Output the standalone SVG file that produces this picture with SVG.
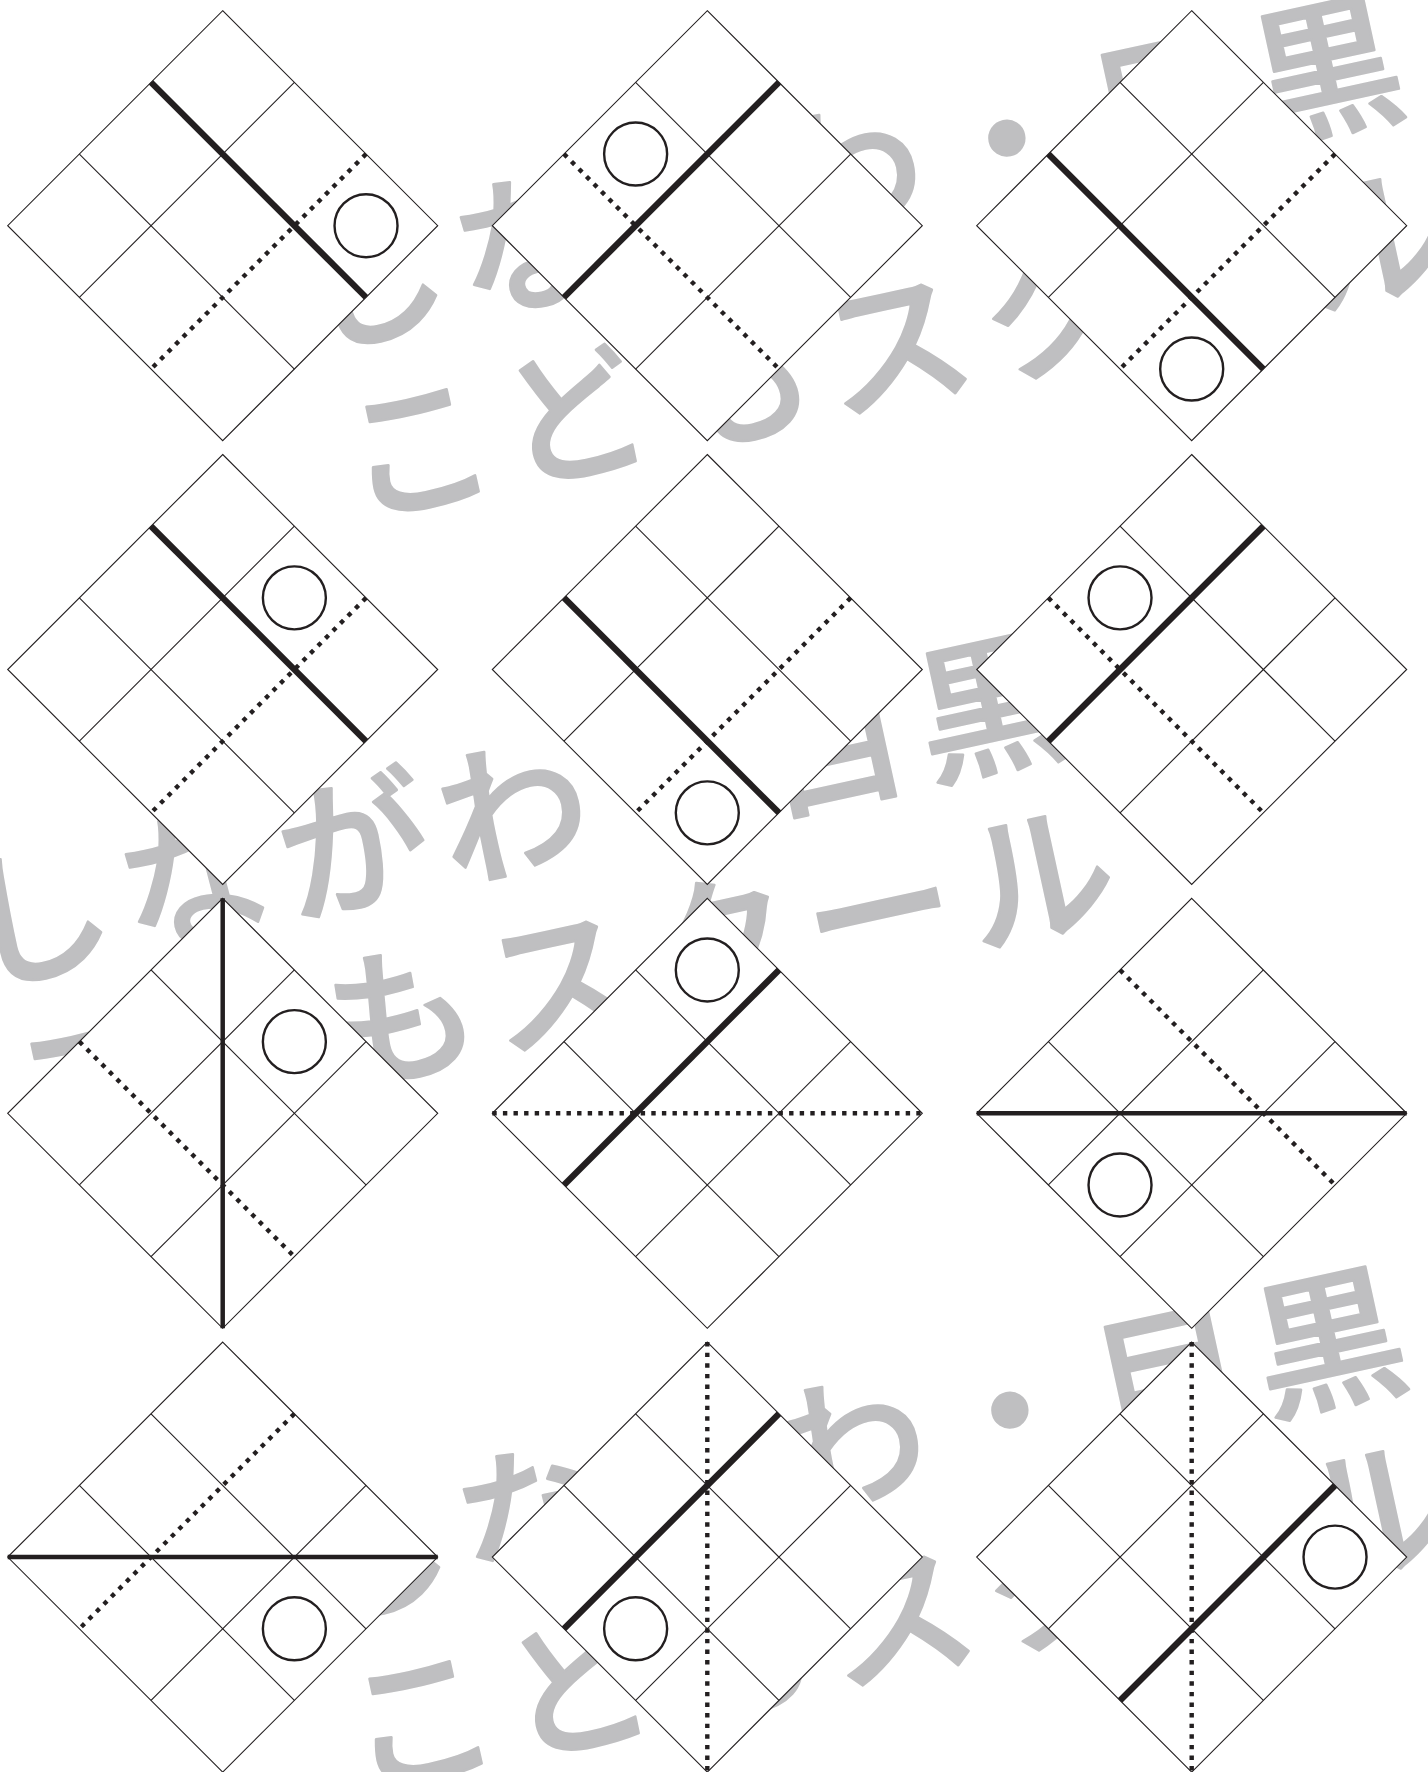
<svg xmlns="http://www.w3.org/2000/svg" xmlns:xlink="http://www.w3.org/1999/xlink" width="1428" height="1772" viewBox="0 0 1428 1772">
<style>
.wm { font-family: "Noto Sans CJK JP", "Noto Sans CJK SC", sans-serif; font-size: 150px; font-weight: 500; fill: #bfbfc1; stroke: #bfbfc1; stroke-width: 2.5; stroke-linejoin: round; letter-spacing: 13px; }
.cell { fill: #ffffff; stroke: #231f20; stroke-width: 1.1; }
.grid { fill: none; stroke: #231f20; stroke-width: 1.1; }
.thick { fill: none; stroke: #231f20; stroke-width: 6.3; stroke-linecap: butt; }
.thin5 { fill: none; stroke: #231f20; stroke-width: 4.5; }
.dot { fill: none; stroke: #231f20; stroke-width: 4.4; stroke-dasharray: 4.4 6.2; }
.circ { fill: none; stroke: #231f20; stroke-width: 2.4; }
</style>
<defs>
<polygon id="frame" class="cell" points="0,-215 215,0 0,215 -215,0"/>
<path id="gi1" class="grid" d="M71.67,-143.33L-143.33,71.67"/>
<path id="gi2" class="grid" d="M143.33,-71.67L-71.67,143.33"/>
<path id="gj1" class="grid" d="M-71.67,-143.33L143.33,71.67"/>
<path id="gj2" class="grid" d="M-143.33,-71.67L71.67,143.33"/>
</defs>
<rect width="1428" height="1772" fill="#ffffff"/>
<g id="watermark">
<text class="wm" transform="translate(308.8,348.6) rotate(-12.3)">しながわ・目黒</text>
<text class="wm" transform="translate(356.1,518.5) rotate(-12.3)">こどもスクール</text>
<text class="wm" transform="translate(-26.2,985.6) rotate(-12.3)">しながわ・目黒</text>
<text class="wm" transform="translate(21.1,1155.5) rotate(-12.3)">こどもスクール</text>
<text class="wm" transform="translate(311.8,1620.6) rotate(-12.3)">しながわ・目黒</text>
<text class="wm" transform="translate(359.1,1790.5) rotate(-12.3)">こどもスクール</text>
</g>
<g id="r1c1" transform="translate(222.7,225.7)">
<use href="#frame"/><use href="#gi1"/><use href="#gj1"/><use href="#gj2"/>
<path class="dot" d="M143.33,-71.67L-71.67,143.33"/>
<path class="thick" d="M-71.67,-143.33L143.33,71.67"/>
<circle class="circ" cx="143.33" cy="0" r="31.5"/>
</g>
<g id="r1c2" transform="translate(707.3,225.7)">
<use href="#frame"/><use href="#gi1"/><use href="#gi2"/><use href="#gj1"/>
<path class="dot" d="M-143.33,-71.67L71.67,143.33"/>
<path class="thick" d="M71.67,-143.33L-143.33,71.67"/>
<circle class="circ" cx="-71.67" cy="-71.67" r="31.5"/>
</g>
<g id="r1c3" transform="translate(1191.7,225.7)">
<use href="#frame"/><use href="#gi1"/><use href="#gj1"/><use href="#gj2"/>
<path class="dot" d="M143.33,-71.67L-71.67,143.33"/>
<path class="thick" d="M-143.33,-71.67L71.67,143.33"/>
<circle class="circ" cx="0" cy="143.33" r="31.5"/>
</g>
<g id="r2c1" transform="translate(222.7,669.5)">
<use href="#frame"/><use href="#gi1"/><use href="#gj1"/><use href="#gj2"/>
<path class="dot" d="M143.33,-71.67L-71.67,143.33"/>
<path class="thick" d="M-71.67,-143.33L143.33,71.67"/>
<circle class="circ" cx="71.67" cy="-71.67" r="31.5"/>
</g>
<g id="r2c2" transform="translate(707.3,669.5)">
<use href="#frame"/><use href="#gi1"/><use href="#gj1"/><use href="#gj2"/>
<path class="dot" d="M143.33,-71.67L-71.67,143.33"/>
<path class="thick" d="M-143.33,-71.67L71.67,143.33"/>
<circle class="circ" cx="0" cy="143.33" r="31.5"/>
</g>
<g id="r2c3" transform="translate(1191.7,669.5)">
<use href="#frame"/><use href="#gi1"/><use href="#gi2"/><use href="#gj1"/>
<path class="dot" d="M-143.33,-71.67L71.67,143.33"/>
<path class="thick" d="M71.67,-143.33L-143.33,71.67"/>
<circle class="circ" cx="-71.67" cy="-71.67" r="31.5"/>
</g>
<g id="r3c1" transform="translate(222.7,1113.3)">
<use href="#frame"/><use href="#gi1"/><use href="#gi2"/><use href="#gj1"/>
<path class="dot" d="M-143.33,-71.67L71.67,143.33"/>
<path class="thin5" d="M0,-215L0,215"/>
<circle class="circ" cx="71.67" cy="-71.67" r="31.5"/>
</g>
<g id="r3c2" transform="translate(707.3,1113.3)">
<use href="#frame"/><use href="#gi1"/><use href="#gi2"/><use href="#gj1"/><use href="#gj2"/>
<path class="dot" d="M-215,0L215,0"/>
<path class="thick" d="M71.67,-143.33L-143.33,71.67"/>
<circle class="circ" cx="0" cy="-143.33" r="31.5"/>
</g>
<g id="r3c3" transform="translate(1191.7,1113.3)">
<use href="#frame"/><use href="#gi1"/><use href="#gi2"/><use href="#gj2"/>
<path class="dot" d="M-71.67,-143.33L143.33,71.67"/>
<path class="thin5" d="M-215,0L215,0"/>
<circle class="circ" cx="-71.67" cy="71.67" r="31.5"/>
</g>
<g id="r4c1" transform="translate(222.7,1557.1)">
<use href="#frame"/><use href="#gi2"/><use href="#gj1"/><use href="#gj2"/>
<path class="dot" d="M71.67,-143.33L-143.33,71.67"/>
<path class="thin5" d="M-215,0L215,0"/>
<circle class="circ" cx="71.67" cy="71.67" r="31.5"/>
</g>
<g id="r4c2" transform="translate(707.3,1557.1)">
<use href="#frame"/><use href="#gi1"/><use href="#gi2"/><use href="#gj1"/><use href="#gj2"/>
<path class="dot" d="M0,-215L0,215"/>
<path class="thick" d="M71.67,-143.33L-143.33,71.67"/>
<circle class="circ" cx="-71.67" cy="71.67" r="31.5"/>
</g>
<g id="r4c3" transform="translate(1191.7,1557.1)">
<use href="#frame"/><use href="#gi1"/><use href="#gi2"/><use href="#gj1"/><use href="#gj2"/>
<path class="dot" d="M0,-215L0,215"/>
<path class="thick" d="M143.33,-71.67L-71.67,143.33"/>
<circle class="circ" cx="143.33" cy="0" r="31.5"/>
</g>
</svg>
